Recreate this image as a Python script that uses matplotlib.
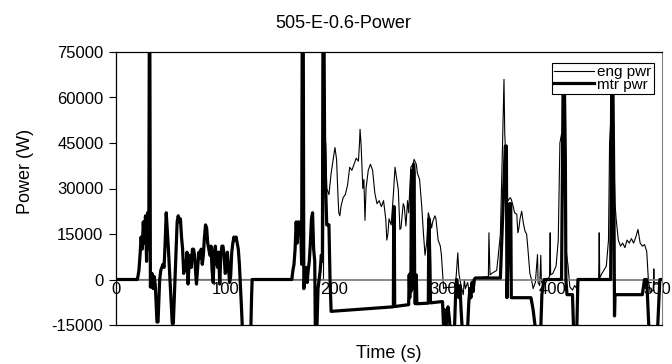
import matplotlib
matplotlib.use("Agg")
import matplotlib.pyplot as plt
from matplotlib.transforms import ScaledTranslation

plt.rcParams["font.family"] = ["Liberation Sans", "DejaVu Sans"]

# engine power (thin line), breakpoints
eng_t = [0, 190, 190.5, 192, 193, 195, 197, 199, 200.5, 202, 203, 204, 205, 206, 208,
         210, 212, 214, 216, 218, 220, 222, 223, 223.5, 224.5, 226, 227, 228, 229, 231,
         233, 235, 237, 239, 241, 243, 245, 247, 248, 249, 250, 252, 254, 255.5, 258.5,
         260, 261, 263, 264, 265.5, 267, 268, 270, 272, 273, 275, 276, 278, 280, 281.5,
         283, 284.5, 286, 287.5, 289, 290, 292, 293, 295, 297, 298, 300, 301, 310,
         311.5, 313, 314, 316, 318, 319, 320, 322, 324, 326, 328, 329, 341, 341.5,
         342.5, 344, 348.6, 350, 352, 353, 354, 355.3, 356, 356.5, 358, 359, 361, 362,
         363.8, 365, 367, 368, 369, 370, 371.5, 373, 374.5, 376, 377, 379, 380.5, 382,
         384, 386, 386.5, 388, 389, 389.5, 391, 393, 395, 397, 397.6, 398, 400, 403,
         405, 406.5, 408, 409.5, 411, 412.5, 414, 415.6, 418, 420, 422, 423, 442, 442.5,
         443, 445, 449, 451, 452, 453, 454, 455.5, 457, 458, 460, 462, 464, 466, 468,
         470, 472, 474, 476, 478, 480, 482, 484, 486, 487.5, 489, 492, 492.5, 493, 496,
         498, 500]
eng_p = [0, 0, 47000, 45000, 30000, 28000, 35000, 40000, 43500, 39600, 30000, 22000,
         21000, 24000, 27000, 28000, 31000, 37000, 36000, 38000, 40000, 39000, 45000,
         49500, 44000, 30000, 33000, 19500, 30000, 36000, 38000, 36000, 28500, 25000,
         26000, 24000, 26000, 20000, 13000, 15000, 20000, 18000, 28000, 37000, 29700,
         16500, 17000, 25000, 24000, 17600, 26000, 22000, 37000, 38000, 39600, 38000,
         35000, 33000, 24000, 15400, 8000, 12000, 22000, 20000, 17000, 19000, 21000,
         20000, 13000, 11000, 8000, -3000, -2700, -2500, 1000, 8800, 2000, -2000, -5000,
         0, -3000, -1000, -5000, 0, -3000, 500, 1000, 15400, 1500, 2000, 3000, 7700,
         15000, 29700, 45000, 66000, 48000, 44000, 27500, 26000, 27000, 26400, 24000,
         22000, 21500, 15400, 17000, 20000, 22500, 18700, 16000, 15000, 11000, 2000, 0,
         -3000, -1000, 8200, -1000, -2000, 8000, -500, -2000, -1500, 0, 1000, 15400, 1500,
         2000, 4400, 13000, 45000, 48000, 37000, 24000, 8800, 4400, -2500, -3500, -2000,
         -3000, 0, 0, 15400, 500, 2000, 4400, 13000, 45000, 52000, 50000, 46000, 25000,
         20000, 13000, 11000, 12000, 10500, 13000, 12000, 13500, 12000, 14000, 16500,
         12000, 11000, 11500, 9300, 0, -4000, -3500, 3500, -1500, -1500, -500, 0]

# motor power (thick line)
mtr_t = [0, 19.6, 21, 22, 23, 24, 25, 26, 27, 28, 29, 30, 30.5, 31, 31.5, 33, 34, 35, 36,
         37.5, 38.5, 40, 41, 43, 44, 45, 46, 47, 48, 49.4, 50.5, 51.5, 52.5, 54, 55, 56,
         57, 58, 59, 60, 61, 62, 63, 64, 65, 66, 67, 68, 69, 70, 71, 72, 73, 73.7, 75,
         76, 77, 78, 79, 80, 81, 82, 83, 84, 85, 86, 87, 88, 89, 90, 91, 92, 93, 94, 95,
         96, 97, 98, 99, 100, 101, 102, 103, 104, 105, 106, 107, 108, 109, 110, 111, 112,
         113, 113.7, 115, 115.7, 123.5, 124.2, 124.7, 161, 162, 163, 164, 165, 166, 167,
         168, 169, 170, 170.5, 171.5, 172, 173, 174, 175, 176, 177, 178, 179, 180, 181,
         182, 182.5, 184, 185, 186, 187, 188, 189, 189.5, 190.5, 191, 192, 193, 195, 196,
         197, 254, 254.3, 254.8, 255.2, 268, 268.5, 269, 269.5, 270, 270.5, 271, 271.5,
         272, 272.5, 273, 273.5, 274, 275, 275.5, 286, 286.5, 287.5, 288, 298, 299, 300,
         301, 302, 304, 305, 306, 310, 311, 312, 313, 314, 315, 316, 317, 322, 323, 324,
         325, 326, 327, 328, 329, 352, 356.5, 357.5, 358, 360.5, 361.5, 362, 380, 382,
         384, 389, 390, 392, 408, 409.5, 410.5, 411.5, 412, 413, 418, 419, 422, 423, 453,
         454, 455, 456, 456.5, 457, 482, 484, 486, 488, 496, 498, 500]
mtr_p = [0, 0, 3000, 8000, 14000, 10000, 19000, 12000, 21000, 6000, 22000, 10000, 80000,
         80000, -2500, 2000, -3000, 1000, -2000, -14000, -14000, 0, 3000, 5000, 4000,
         12000, 22000, 16000, 10000, 0, -8000, -14500, -14500, 0, 10000, 19000, 21000,
         19000, 20000, 14000, 10000, 2000, 6000, 3000, 9000, -1500, 6000, 8000, 4000,
         10000, 10000, 8000, 2000, -1500, 5000, 9000, 7000, 10000, 5000, 8000, 14000,
         18000, 17000, 12000, 10000, 8000, 11000, 3000, -1000, 9000, 11000, 6000, 4000,
         9000, -1500, 8000, 11000, 11000, 8000, 2000, 3000, 9000, 4000, -1000, 1000, 9000,
         12000, 14000, 13000, 14000, 12000, 10000, 5000, 0, -10000, -16000, -16000, -5000,
         0, 0, 3000, 5000, 10000, 19000, 12000, 19000, 15000, 19000, 5000, 80000, 80000,
         -3000, 1000, 4000, -1000, 3000, 6000, 12000, 20000, 22000, 10000, 6000, -16000,
         -16000, -3000, 0, 3000, 8000, 6000, 80000, 80000, 47000, 30000, 18000, 18000, 0,
         -10500, -9000, 24000, 24000, -8900, -8300, 1500, -6000, 2000, -4000, 30000,
         36000, -3000, 2000, 38000, 35000, 0, -8000, 1500, -8000, -7800, 20000, 5000,
         -7700, -7300, -7300, -16000, -10000, -16000, -9000, -12000, -16000, -16000,
         -5000, 0, -3000, -6000, -2000, -10000, -16000, -16000, -8000, -3000, -6000,
         -1000, -4000, 0, 500, 500, 44000, 44000, -6000, 25000, 25000, -6000, -6000,
         -10000, -16000, -16000, -5000, 0, 0, 68000, 68000, 40000, 0, -5000, -5000, -16000,
         -16000, 0, 0, 68000, 68000, 25000, -12000, -5000, -5000, 0, 0, -16000, -16000,
         0, 0]

y_ticks = [-15000, 0, 15000, 30000, 45000, 60000, 75000]
x_ticks = [0, 100, 200, 300, 400, 500]

fig = plt.figure(figsize=(6.72, 3.64), dpi=100)
ax = fig.add_axes([116 / 672, 39 / 364, 546 / 672, 273 / 364])

ax.plot(eng_t, eng_p, color="black", lw=0.8, label="eng pwr", zorder=2)
ax.axhline(0, color="#808080", lw=1.3, zorder=2.5)
ax.plot(mtr_t, mtr_p, color="black", lw=2.3, label="mtr pwr", zorder=3)

ax.set_xlim(0, 500)
ax.set_ylim(-15000, 75000)
ax.set_yticks(y_ticks)
ax.set_yticklabels([str(v) for v in y_ticks])
ax.tick_params(axis="y", direction="out", length=5, width=0.8, labelsize=12, pad=4)
ax.set_xticks([])
for s in ["left", "bottom", "top"]:
    ax.spines[s].set_color("black")
    ax.spines[s].set_linewidth(0.9)
ax.spines["right"].set_color("#808080")

# category axis crosses at zero, labels sit just under the zero line
sec = ax.secondary_xaxis(15000 / 90000)
sec.set_xticks(x_ticks)
sec.set_xticklabels([str(v) for v in x_ticks])
sec.spines["bottom"].set_visible(False)
sec.tick_params(axis="x", length=0, labelsize=12, pad=2)
last = sec.get_xticklabels()[-1]
last.set_transform(last.get_transform() + ScaledTranslation(-5 / 100, 0, fig.dpi_scale_trans))

leg = ax.legend(loc="upper right", bbox_to_anchor=(0.985, 0.96), fontsize=11,
                frameon=True, fancybox=False, edgecolor="black", framealpha=1,
                handlelength=2.6, handletextpad=0.2, borderpad=0.15, labelspacing=-0.1,
                borderaxespad=0)
leg.get_frame().set_linewidth(0.8)

fig.text(343 / 672, 1 - 23 / 364, "505-E-0.6-Power", ha="center", va="center", fontsize=13)
fig.text(389 / 672, 1 - 354 / 364, "Time (s)", ha="center", va="center", fontsize=13)
fig.text(26 / 672, 1 - 171 / 364, "Power (W)", ha="center", va="center",
         rotation=90, fontsize=13)

fig.savefig("out.png", dpi=100)
